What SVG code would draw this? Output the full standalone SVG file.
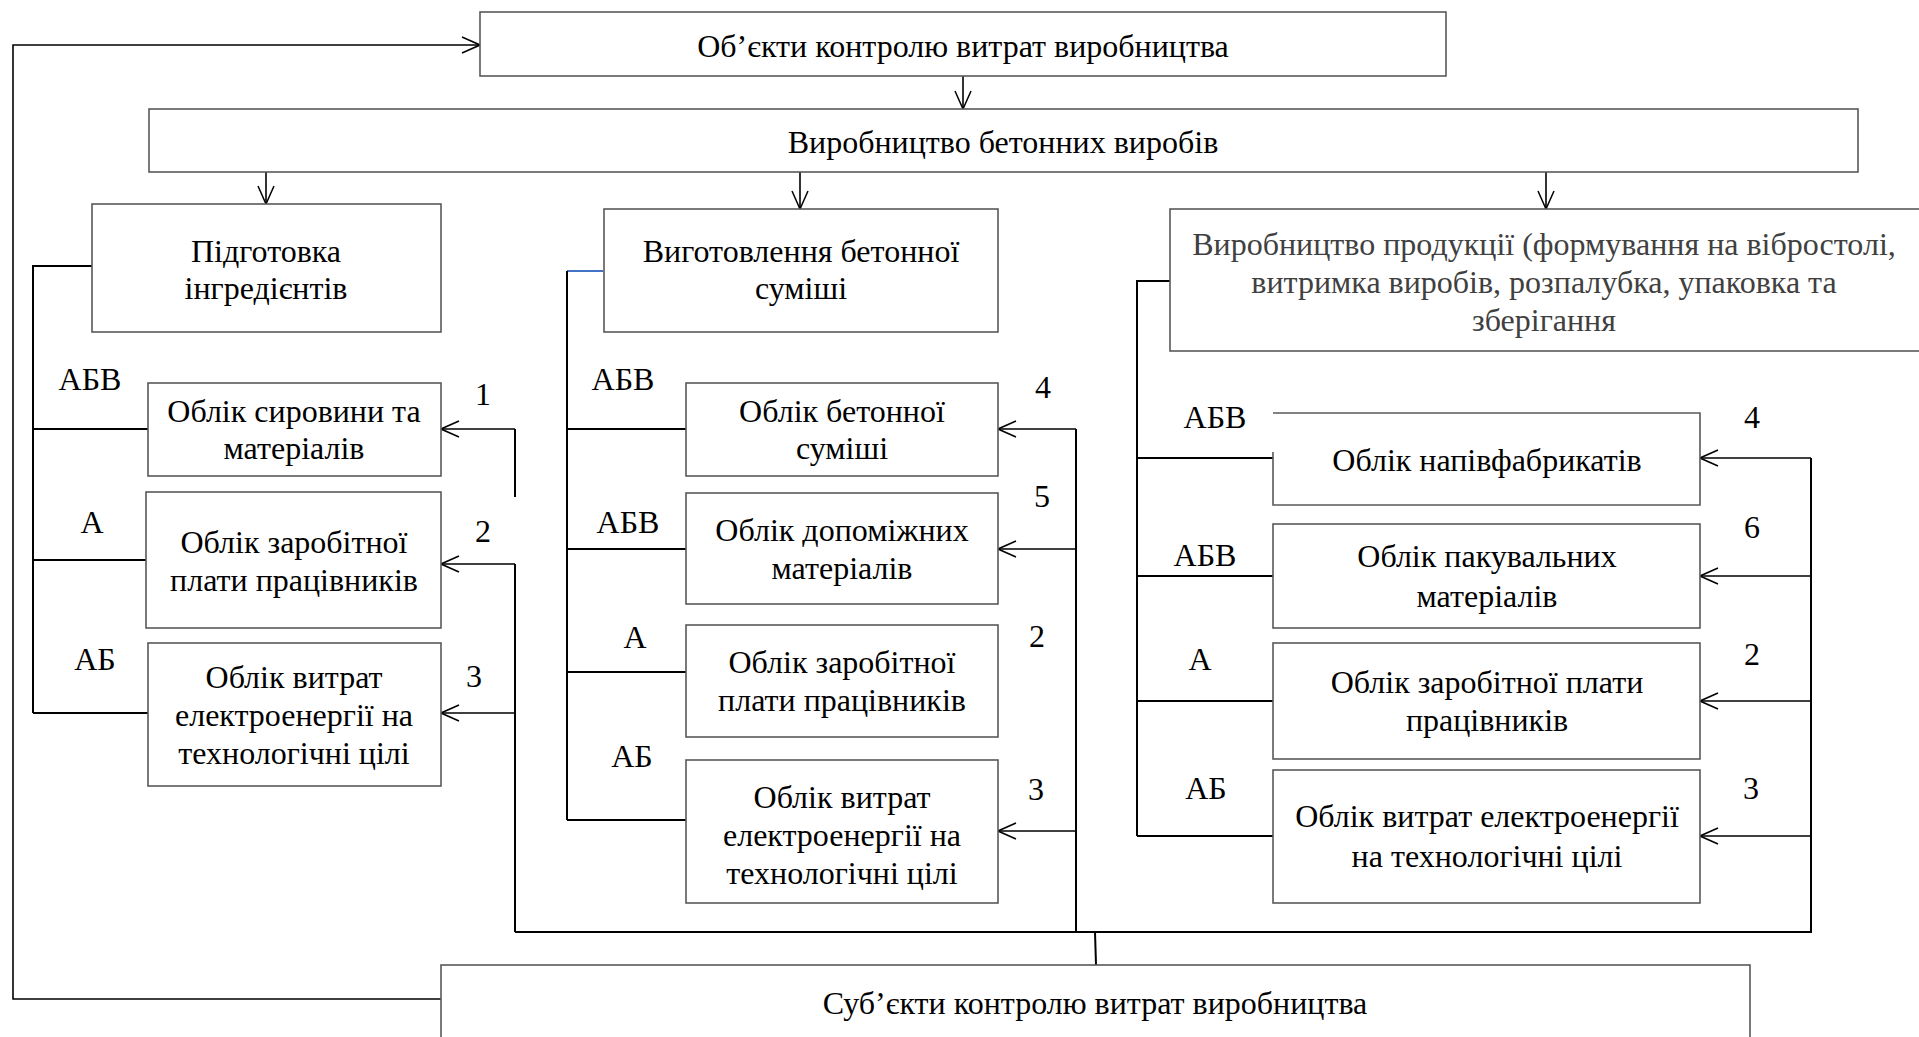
<svg xmlns="http://www.w3.org/2000/svg" width="1919" height="1037" viewBox="0 0 1919 1037">
<defs>
<marker id="arr" viewBox="0 0 20 20" refX="19" refY="10" markerWidth="20" markerHeight="20" markerUnits="userSpaceOnUse" orient="auto">
<path d="M1,2 L19,10 L1,18" fill="none" stroke="#000" stroke-width="1.5"/>
</marker>
</defs>
<style>
.box{fill:#fff;stroke:#595959;stroke-width:1.6}
.t{font-family:"Liberation Serif","Times New Roman",serif;font-size:32px;fill:#000;text-anchor:middle}
.g{fill:#404040}
.c{fill:none;stroke:#000;stroke-width:2}
.a{fill:none;stroke:#000;stroke-width:1.6;marker-end:url(#arr)}
</style>
<rect width="1919" height="1037" fill="#fff"/>

<g id="connectors">
<path class="a" d="M963,76 V109"/>
<path class="a" d="M266,172 V204"/>
<path class="a" d="M800,172 V209"/>
<path class="a" d="M1546,172 V209"/>
<path class="a" d="M441,999 H13 V45 H480"/>
<!-- left column -->
<path class="c" d="M92,266 H33 V713"/>
<path class="c" d="M33,429 H148 M33,560 H146 M33,713 H148"/>
<path class="c" d="M515,429 V497 M515,564 V932"/>
<path class="a" d="M515,429 H441"/>
<path class="a" d="M515,564 H441"/>
<path class="a" d="M515,713 H441"/>
<path class="c" d="M515,932 H1812"/>
<path class="c" d="M1095,932 L1096,965" stroke-width="1.5"/>
<!-- middle column -->
<path d="M567,271 H603" fill="none" stroke="#4472C4" stroke-width="2"/>
<path class="c" d="M567,271 V820"/>
<path class="c" d="M567,429 H686 M567,549 H686 M567,672 H686 M567,820 H686"/>
<path class="c" d="M1076,429 V932"/>
<path class="a" d="M1076,429 H998"/>
<path class="a" d="M1076,549 H998"/>
<path class="a" d="M1076,831 H998"/>
<!-- right column -->
<path class="c" d="M1170,281 H1137 V836"/>
<path class="c" d="M1137,458 H1273 M1137,576 H1273 M1137,701 H1273 M1137,836 H1273"/>
<path class="c" d="M1811,458 V932"/>
<path class="a" d="M1811,458 H1700"/>
<path class="a" d="M1811,576 H1700"/>
<path class="a" d="M1811,701 H1700"/>
<path class="a" d="M1811,836 H1700"/>
</g>

<g id="n-objects">
<rect class="box" x="480" y="12" width="966" height="64"/>
<text class="t" x="963" y="57">Об’єкти контролю витрат виробництва</text>
</g>
<g id="n-production">
<rect class="box" x="149" y="109" width="1709" height="63"/>
<text class="t" x="1003" y="153">Виробництво бетонних виробів</text>
</g>
<g id="n-prep">
<rect class="box" x="92" y="204" width="349" height="128"/>
<text class="t" x="266" y="262">Підготовка</text>
<text class="t" x="266" y="299">інгредієнтів</text>
</g>
<g id="n-mix">
<rect class="box" x="604" y="209" width="394" height="123"/>
<text class="t" x="801" y="262">Виготовлення бетонної</text>
<text class="t" x="801" y="299">суміші</text>
</g>
<g id="n-output">
<rect class="box" x="1170" y="209" width="760" height="142"/>
<text class="t g" x="1544" y="255">Виробництво продукції (формування на вібростолі,</text>
<text class="t g" x="1544" y="293">витримка виробів, розпалубка, упаковка та</text>
<text class="t g" x="1544" y="331">зберігання</text>
</g>

<g id="n-l1">
<rect class="box" x="148" y="383" width="293" height="93"/>
<text class="t" x="294" y="422">Облік сировини та</text>
<text class="t" x="294" y="459">матеріалів</text>
</g>
<g id="n-l2">
<rect class="box" x="146" y="492" width="295" height="136"/>
<text class="t" x="294" y="553">Облік заробітної</text>
<text class="t" x="294" y="591">плати працівників</text>
</g>
<g id="n-l3">
<rect class="box" x="148" y="643" width="293" height="143"/>
<text class="t" x="294" y="688">Облік витрат</text>
<text class="t" x="294" y="726">електроенергії на</text>
<text class="t" x="294" y="764">технологічні цілі</text>
</g>

<g id="n-m1">
<rect class="box" x="686" y="383" width="312" height="93"/>
<text class="t" x="842" y="422">Облік бетонної</text>
<text class="t" x="842" y="459">суміші</text>
</g>
<g id="n-m2">
<rect class="box" x="686" y="493" width="312" height="111"/>
<text class="t" x="842" y="541">Облік допоміжних</text>
<text class="t" x="842" y="579">матеріалів</text>
</g>
<g id="n-m3">
<rect class="box" x="686" y="625" width="312" height="112"/>
<text class="t" x="842" y="673">Облік заробітної</text>
<text class="t" x="842" y="711">плати працівників</text>
</g>
<g id="n-m4">
<rect class="box" x="686" y="760" width="312" height="143"/>
<text class="t" x="842" y="808">Облік витрат</text>
<text class="t" x="842" y="846">електроенергії на</text>
<text class="t" x="842" y="884">технологічні цілі</text>
</g>

<g id="n-r1">
<path class="box" d="M1273,452 V505 H1700 V413 H1273"/>
<text class="t" x="1487" y="471">Облік напівфабрикатів</text>
</g>
<g id="n-r2">
<rect class="box" x="1273" y="524" width="427" height="104"/>
<text class="t" x="1487" y="567">Облік пакувальних</text>
<text class="t" x="1487" y="607">матеріалів</text>
</g>
<g id="n-r3">
<rect class="box" x="1273" y="643" width="427" height="116"/>
<text class="t" x="1487" y="693">Облік заробітної плати</text>
<text class="t" x="1487" y="731">працівників</text>
</g>
<g id="n-r4">
<rect class="box" x="1273" y="770" width="427" height="133"/>
<text class="t" x="1487" y="827">Облік витрат електроенергії</text>
<text class="t" x="1487" y="867">на технологічні цілі</text>
</g>

<g id="n-subjects">
<rect class="box" x="441" y="965" width="1309" height="100"/>
<text class="t" x="1095" y="1014">Суб’єкти контролю витрат виробництва</text>
</g>

<g id="labels">
<text class="t" x="90" y="390">АБВ</text>
<text class="t" x="92" y="533">А</text>
<text class="t" x="95" y="670">АБ</text>
<text class="t" x="483" y="405">1</text>
<text class="t" x="483" y="542">2</text>
<text class="t" x="474" y="687">3</text>
<text class="t" x="623" y="390">АБВ</text>
<text class="t" x="628" y="533">АБВ</text>
<text class="t" x="635" y="648">А</text>
<text class="t" x="632" y="767">АБ</text>
<text class="t" x="1043" y="398">4</text>
<text class="t" x="1042" y="507">5</text>
<text class="t" x="1037" y="647">2</text>
<text class="t" x="1036" y="800">3</text>
<text class="t" x="1215" y="428">АБВ</text>
<text class="t" x="1205" y="566">АБВ</text>
<text class="t" x="1200" y="670">А</text>
<text class="t" x="1206" y="799">АБ</text>
<text class="t" x="1752" y="428">4</text>
<text class="t" x="1752" y="538">6</text>
<text class="t" x="1752" y="665">2</text>
<text class="t" x="1751" y="799">3</text>
</g>
</svg>
